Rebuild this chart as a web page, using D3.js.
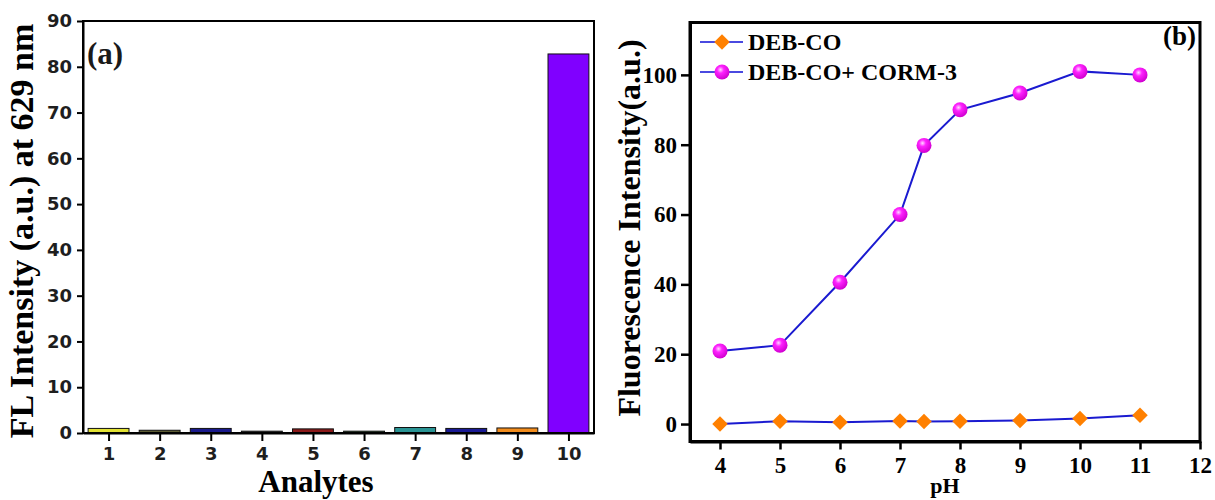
<!DOCTYPE html>
<html>
<head>
<meta charset="utf-8">
<script src="https://cdn.jsdelivr.net/npm/d3@7"></script>
<style>
  body { margin: 0; background: #fff; }
  svg { display: block; }
</style>
</head>
<body>
<svg id="chart" width="1215" height="500"></svg>
<script>
// panel (a): analytes
const analytes = [1, 2, 3, 4, 5, 6, 7, 8, 9, 10];
const flValues = [1.0, 0.6, 1.0, 0.4, 0.9, 0.4, 1.2, 1.0, 1.1, 82.8];
const barColors = ['#e2e233', '#5c5c34', '#1a1a8c', '#303030', '#8c1a1a', '#2c4a2c', '#2a9494', '#1a1a94', '#f28c1c', '#8000ff'];
const yTicksA = [0, 10, 20, 30, 40, 50, 60, 70, 80, 90];

// panel (b): pH
const phValues = [4, 5, 6, 7, 7.4, 8, 9, 10, 11];
const debCo = [0, 0.8, 0.5, 0.9, 0.7, 0.8, 1.0, 1.6, 2.5];
const debCoCorm = [20.9, 22.6, 40.6, 60, 79.8, 90, 94.8, 101, 100];
const xTicksB = [4, 5, 6, 7, 8, 9, 10, 11, 12];
const yTicksB = [0, 20, 40, 60, 80, 100];
const legendLabels = ['DEB-CO', 'DEB-CO+ CORM-3'];

const svg = d3.select('#chart');
const serif = '"Liberation Serif", "Times New Roman", serif';
const sans = '"DejaVu Sans", Arial, sans-serif';

// 球形标记的渐变
const defs = svg.append('defs');
const grad = defs.append('radialGradient')
  .attr('id', 'ball').attr('cx', '40%').attr('cy', '35%').attr('r', '65%');
grad.append('stop').attr('offset', '0%').attr('stop-color', '#ffd8ff');
grad.append('stop').attr('offset', '35%').attr('stop-color', '#ff22ff');
grad.append('stop').attr('offset', '100%').attr('stop-color', '#d000d0');

// ---------- panel (a) ----------
const xA = d3.scaleLinear().domain([0.5, 10.5]).range([83, 594]);
const yA = d3.scaleLinear().domain([0, 90]).range([433, 21]);

const gA = svg.append('g');

gA.selectAll('rect.bar')
  .data(analytes)
  .enter()
  .append('rect')
  .attr('class', 'bar')
  .attr('x', d => xA(d - 0.4))
  .attr('width', xA(0.8) - xA(0))
  .attr('y', (d, i) => yA(flValues[i]))
  .attr('height', (d, i) => yA(0) - yA(flValues[i]))
  .attr('fill', (d, i) => barColors[i])
  .attr('stroke', '#111')
  .attr('stroke-width', 1);

// 边框
gA.append('rect')
  .attr('x', xA(0.5)).attr('y', yA(90))
  .attr('width', xA(10.5) - xA(0.5)).attr('height', yA(0) - yA(90))
  .attr('fill', 'none').attr('stroke', '#000').attr('stroke-width', 2);

const axA_x = gA.append('g')
  .attr('transform', `translate(0, ${yA(0)})`)
  .call(d3.axisBottom(xA).tickValues(analytes).tickSize(8).tickSizeOuter(0).tickPadding(6));
const axA_y = gA.append('g')
  .attr('transform', `translate(${xA(0.5)}, 0)`)
  .call(d3.axisLeft(yA).tickValues(yTicksA).tickSize(6).tickSizeOuter(0).tickPadding(5));

[axA_x, axA_y].forEach(ax => {
  ax.attr('font-family', null).attr('font-size', null);
  ax.select('.domain').attr('stroke', '#000').attr('stroke-width', 2);
  ax.selectAll('.tick line').attr('stroke', '#000').attr('stroke-width', 2);
  ax.selectAll('.tick text')
    .style('font-family', sans).style('font-weight', '700')
    .style('font-size', '18px').attr('fill', '#1e1e1e');
});

gA.append('text')
  .attr('x', 316).attr('y', 492)
  .attr('text-anchor', 'middle')
  .style('font-family', serif).style('font-weight', 'bold').style('font-size', '31px')
  .text('Analytes');

gA.append('text')
  .attr('transform', 'translate(33, 231) rotate(-90)')
  .attr('text-anchor', 'middle')
  .style('font-family', serif).style('font-weight', 'bold').style('font-size', '34px')
  .text('FL Intensity (a.u.) at 629 nm');

gA.append('text')
  .attr('x', 87).attr('y', 64)
  .style('font-family', serif).style('font-weight', 'bold').style('font-size', '31px')
  .attr('fill', '#1a1a1a')
  .text('(a)');

// ---------- panel (b) ----------
const xB = d3.scaleLinear().domain([3.5, 12]).range([690, 1200]);
const yB = d3.scaleLinear().domain([-5, 115]).range([441.5, 22.5]);

const gB = svg.append('g');

gB.append('rect')
  .attr('x', xB(3.5)).attr('y', yB(115))
  .attr('width', xB(12) - xB(3.5)).attr('height', yB(-5) - yB(115))
  .attr('fill', 'none').attr('stroke', '#000').attr('stroke-width', 3);

const axB_x = gB.append('g')
  .attr('transform', `translate(0, ${yB(-5)})`)
  .call(d3.axisBottom(xB).tickValues(xTicksB).tickSize(8).tickSizeOuter(0).tickPadding(7));
const axB_y = gB.append('g')
  .attr('transform', `translate(${xB(3.5)}, 0)`)
  .call(d3.axisLeft(yB).tickValues(yTicksB).tickSize(9).tickSizeOuter(0).tickPadding(4));

[axB_x, axB_y].forEach(ax => {
  ax.attr('font-family', null).attr('font-size', null);
  ax.select('.domain').attr('stroke', '#000').attr('stroke-width', 3);
  ax.selectAll('.tick line').attr('stroke', '#000').attr('stroke-width', 2.5);
  ax.selectAll('.tick text')
    .style('font-family', serif).style('font-weight', 'bold')
    .style('font-size', '23px').attr('fill', '#000');
});

const line = d3.line()
  .x(d => xB(d[0]))
  .y(d => yB(d[1]));

const series = [debCo, debCoCorm];
series.forEach(vals => {
  gB.append('path')
    .datum(phValues.map((p, i) => [p, vals[i]]))
    .attr('d', line)
    .attr('fill', 'none')
    .attr('stroke', '#1a1ad0')
    .attr('stroke-width', 2);
});

const diamond = d3.symbol().type(d3.symbolSquare).size(120);
gB.selectAll('path.dia')
  .data(phValues)
  .enter()
  .append('path')
  .attr('class', 'dia')
  .attr('d', diamond)
  .attr('transform', (d, i) => `translate(${xB(d)}, ${yB(debCo[i])}) rotate(45)`)
  .attr('fill', '#ff8000');

gB.selectAll('circle.ball')
  .data(phValues)
  .enter()
  .append('circle')
  .attr('class', 'ball')
  .attr('cx', d => xB(d))
  .attr('cy', (d, i) => yB(debCoCorm[i]))
  .attr('r', 7.5)
  .attr('fill', 'url(#ball)');

// 图例
const legend = gB.append('g');
legendLabels.forEach((lab, i) => {
  const ly = 42 + i * 30;
  legend.append('line')
    .attr('x1', 700).attr('x2', 743).attr('y1', ly).attr('y2', ly)
    .attr('stroke', '#4a4ae0').attr('stroke-width', 2);
  if (i === 0) {
    legend.append('path')
      .attr('d', diamond)
      .attr('transform', `translate(722, ${ly}) rotate(45)`)
      .attr('fill', '#ff8000');
  } else {
    legend.append('circle')
      .attr('cx', 722).attr('cy', ly).attr('r', 7.5)
      .attr('fill', 'url(#ball)');
  }
  legend.append('text')
    .attr('x', 748).attr('y', ly + 8)
    .style('font-family', serif).style('font-weight', 'bold').style('font-size', '24px')
    .text(lab);
});

gB.append('text')
  .attr('x', 1196).attr('y', 45)
  .attr('text-anchor', 'end')
  .style('font-family', serif).style('font-weight', 'bold').style('font-size', '27px')
  .text('(b)');

gB.append('text')
  .attr('x', (xB(3.5) + xB(12)) / 2).attr('y', 493)
  .attr('text-anchor', 'middle')
  .style('font-family', serif).style('font-weight', 'bold').style('font-size', '22px')
  .text('pH');

gB.append('text')
  .attr('transform', 'translate(640, 228) rotate(-90)')
  .attr('text-anchor', 'middle')
  .style('font-family', serif).style('font-weight', 'bold').style('font-size', '32px')
  .text('Fluorescence Intensity(a.u.)');
</script>
</body>
</html>
